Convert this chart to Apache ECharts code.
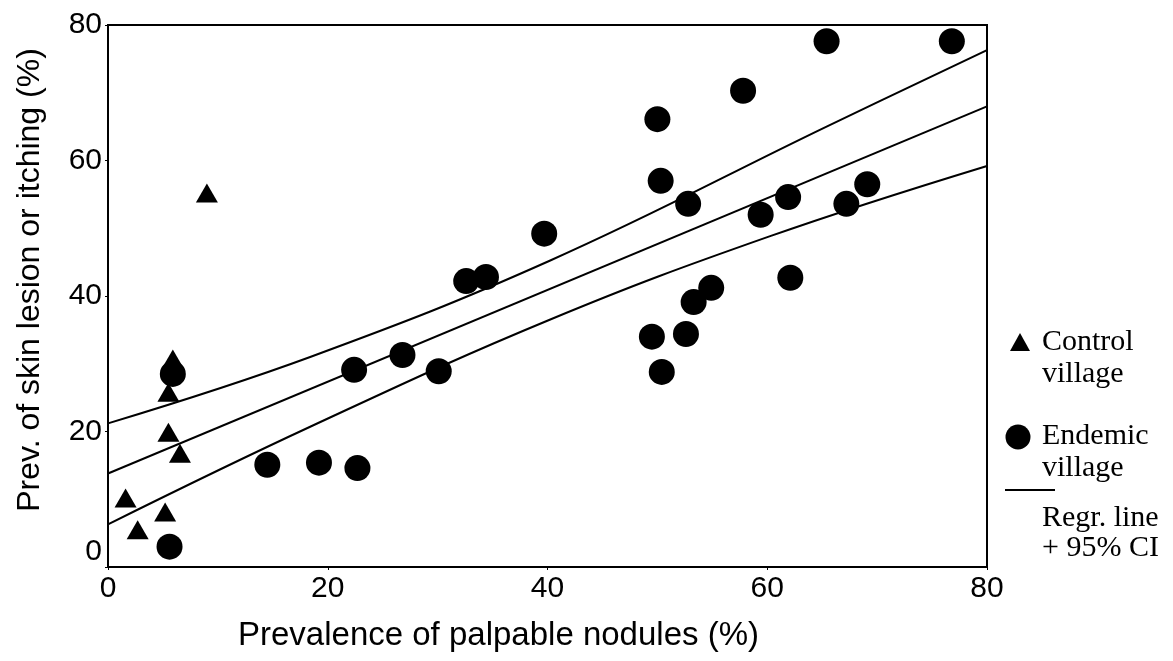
<!DOCTYPE html>
<html>
<head>
<meta charset="utf-8">
<script src="https://cdn.jsdelivr.net/npm/echarts@6/dist/echarts.min.js"></script>
<style>
html,body{margin:0;padding:0;background:#fff;}
#chart{width:1173px;height:661px;}
</style>
</head>
<body>
<div id="chart"></div>
<script>
// Control village (triangles)
var controlX = [9.0, 6.55, 5.5, 1.6, 2.7, 5.2, 5.5, 5.9];
var controlY = [55.2, 16.8, 19.9, 10.2, 5.5, 8.1, 25.8, 30.7];
// Endemic village (circles)
var endemicX = [5.6, 5.9, 14.5, 19.2, 22.7, 22.4, 26.8, 30.1, 32.6, 34.4, 39.7, 50.0, 50.3, 52.8, 57.8, 59.4, 61.9, 62.1, 54.9, 53.3, 49.5, 52.6, 50.4, 65.4, 76.8, 67.2, 69.1];
var endemicY = [3.0, 28.5, 15.1, 15.4, 14.6, 29.1, 31.3, 28.9, 42.2, 42.8, 49.2, 66.1, 57.0, 53.6, 70.3, 52.0, 54.6, 42.7, 41.2, 39.1, 34.0, 34.4, 28.8, 77.6, 77.6, 53.6, 56.5];
// Regression line and 95% CI
var regrX  = [0, 80];
var regrY  = [13.8, 68.0];
var upperX = [0, 18.4, 40.2, 65.4, 80];
var upperY = [21.2, 31.0, 45.2, 65.0, 76.3];
var lowerX = [0, 18.4, 40.2, 60.2, 80];
var lowerY = [6.3, 20.7, 36.5, 48.8, 59.2];
var xTicks = [0, 20, 40, 60, 80];
var yTicks = [0, 20, 40, 60, 80];

function zip(a, b) { return a.map(function (v, i) { return [v, b[i]]; }); }

var chart = echarts.init(document.getElementById('chart'), null, {renderer: 'canvas'});
var sans = '"Liberation Sans", Arial, sans-serif';
var serif = '"Liberation Serif", "Times New Roman", serif';
var lineStyle = {color: '#000', width: 2};

var option = {
  backgroundColor: '#fff',
  animation: false,
  grid: {left: 108, right: 186, top: 25, bottom: 94, show: true, borderColor: '#000', borderWidth: 2},
  xAxis: {
    type: 'value', min: 0, max: 80, interval: 20,
    name: 'Prevalence of palpable nodules (%)',
    nameLocation: 'middle', nameGap: 52,
    nameTextStyle: {fontFamily: sans, fontSize: 33, color: '#000', padding: [0, 98, 0, 0]},
    axisLine: {show: true, lineStyle: {color: '#000', width: 2}},
    axisTick: {show: true, length: 3, lineStyle: {color: '#000'}},
    splitLine: {show: false},
    axisLabel: {fontFamily: sans, fontSize: 30, color: '#000', margin: 7,
      formatter: function (v) { return xTicks.indexOf(v) >= 0 ? String(v) : ''; }}
  },
  yAxis: {
    type: 'value', min: 0, max: 80, interval: 20,
    name: 'Prev. of skin lesion or itching (%)',
    nameLocation: 'middle', nameGap: 62,
    nameTextStyle: {fontFamily: sans, fontSize: 32, color: '#000', padding: [0, 0, 0, 32]},
    axisLine: {show: true, lineStyle: {color: '#000', width: 2}},
    axisTick: {show: true, length: 3, lineStyle: {color: '#000'}},
    splitLine: {show: false},
    axisLabel: {fontFamily: sans, fontSize: 30, color: '#000', margin: 6,
      verticalAlignMinLabel: 'bottom',
      formatter: function (v) { return yTicks.indexOf(v) >= 0 ? String(v) : ''; }}
  },
  series: [
    {name: 'Upper 95% CI', type: 'line', data: zip(upperX, upperY), smooth: 0.4, symbol: 'none', lineStyle: lineStyle, z: 2},
    {name: 'Regr. line', type: 'line', data: zip(regrX, regrY), symbol: 'none', lineStyle: lineStyle, z: 2},
    {name: 'Lower 95% CI', type: 'line', data: zip(lowerX, lowerY), smooth: 0.4, symbol: 'none', lineStyle: lineStyle, z: 2},
    {name: 'Control village', type: 'scatter', data: zip(controlX, controlY), symbol: 'triangle', symbolSize: [22, 19],
      itemStyle: {color: '#000', opacity: 1}, z: 3},
    {name: 'Endemic village', type: 'scatter', data: zip(endemicX, endemicY), symbol: 'circle', symbolSize: 26,
      itemStyle: {color: '#000', opacity: 1}, z: 3}
  ],
  graphic: [
    {type: 'polygon', shape: {points: [[1020, 333], [1030, 351], [1010, 351]]}, style: {fill: '#000'}},
    {type: 'text', left: 1042, top: 326, style: {text: 'Control\nvillage', font: '30px ' + serif, fill: '#000', lineHeight: 32}},
    {type: 'circle', shape: {cx: 1018, cy: 437, r: 12.5}, style: {fill: '#000'}},
    {type: 'text', left: 1042, top: 420, style: {text: 'Endemic\nvillage', font: '30px ' + serif, fill: '#000', lineHeight: 32}},
    {type: 'line', shape: {x1: 1005, y1: 490, x2: 1055, y2: 490}, style: {stroke: '#000', lineWidth: 2}},
    {type: 'text', left: 1042, top: 503, style: {text: 'Regr. line\n+ 95% CI', font: '30px ' + serif, fill: '#000', lineHeight: 30}}
  ]
};
chart.setOption(option);
</script>
</body>
</html>
